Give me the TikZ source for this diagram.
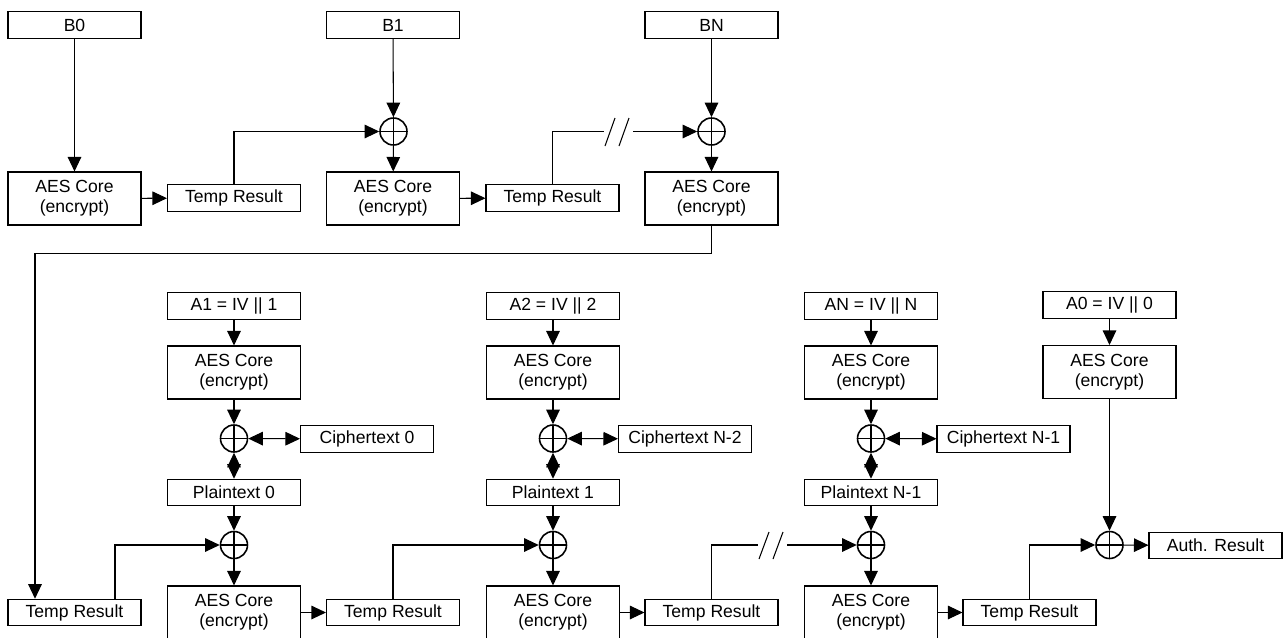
\documentclass[tikz,border=0pt]{standalone}
\usepackage{fontspec}
\setmainfont{Liberation Sans}
\usepackage{tikz}
\usetikzlibrary{arrows.meta}
\tikzset{
  blk/.style          = {rectangle, draw, line width=0.6pt, minimum width=26.6mm,
                         minimum height=5.3mm, inner sep=0pt,
                         font=\fontsize{10}{11.5}\selectfont},
  core/.style         = {blk, minimum height=10.6mm, align=center},
  xor/.style          = {circle, draw, line width=0.9pt, minimum size=5.4mm, inner sep=0pt,
                         path picture={\draw[line width=0.6pt]
                           (path picture bounding box.north) -- (path picture bounding box.south)
                           (path picture bounding box.west) -- (path picture bounding box.east);}},
  flow/.style         = {-{Triangle[length=2.9mm, width=2.7mm]}, line width=0.6pt},
  both/.style         = {{Triangle[length=2.9mm, width=2.7mm]}-{Triangle[length=2.9mm, width=2.7mm]},
                         line width=0.6pt},
  wire/.style         = {line width=0.6pt},
}

\begin{document}
\begin{tikzpicture}[x=0.2mm, y=-0.2mm]
  \useasboundingbox (0,0) rectangle (1283,637);

  % CBC-MAC over the B blocks
  \node[blk] (blk0) at (74.5,25) {B0};
  \node[blk] (blk1) at (393,25) {B1};
  \node[blk] (blkN) at (711.5,25) {BN};
  \node[xor] (xor1) at (393.5,131.5) {};
  \node[xor] (xorN) at (711.5,131.5) {};
  \node[core] (enc0) at (74.5,198.5) {AES Core\\(encrypt)};
  \node[core] (enc1) at (393,198.5) {AES Core\\(encrypt)};
  \node[core] (encN) at (711.5,198.5) {AES Core\\(encrypt)};
  \node[blk] (tmp0) at (234,198) {Temp Result};
  \node[blk] (tmp1) at (552.5,198) {Temp Result};
  \coordinate (cut1a) at (604,131.5);
  \coordinate (cut1b) at (633,131.5);

  \draw[flow] (blk0) -- (enc0);
  \draw[flow] (enc0) -- (tmp0);
  \draw[flow] (tmp0.north) |- (xor1.west);
  \draw[flow] (blk1) -- (xor1);
  \draw[flow] (xor1) -- (enc1);
  \draw[flow] (enc1) -- (tmp1);
  \draw[wire] (tmp1.north) |- (cut1a);
  \draw[wire] (605,146) -- (615,118) (619,146) -- (629,118);
  \draw[flow] (cut1b) -- (xorN);
  \draw[flow] (blkN) -- (xorN);
  \draw[flow] (xorN) -- (encN);

  % counter blocks
  \node[blk] (ctr1) at (234,306) {A1 = IV || 1};
  \node[blk] (ctr2) at (553,306) {A2 = IV || 2};
  \node[blk] (ctrN) at (871,306) {AN = IV || N};
  \node[blk] (ctr0) at (1109.5,305) {A0 = IV || 0};
  \node[core] (cenc1) at (234,372.5) {AES Core\\(encrypt)};
  \node[core] (cenc2) at (553,372.5) {AES Core\\(encrypt)};
  \node[core] (cencN) at (871,372.5) {AES Core\\(encrypt)};
  \node[core] (cenc0) at (1109.5,372) {AES Core\\(encrypt)};
  \node[xor] (kxor1) at (234,438.5) {};
  \node[xor] (kxor2) at (553,438.5) {};
  \node[xor] (kxorN) at (871,438.5) {};
  \node[blk] (ct0) at (367,439) {Ciphertext 0};
  \node[blk] (ctN2) at (685,439) {Ciphertext N-2};
  \node[blk] (ctN1) at (1003.5,439) {Ciphertext N-1};
  \node[blk] (pt0) at (234,492.5) {Plaintext 0};
  \node[blk] (pt1) at (553,492.5) {Plaintext 1};
  \node[blk] (ptN1) at (871,492.5) {Plaintext N-1};

  % MAC over the plaintext
  \node[xor] (mxor1) at (234,545) {};
  \node[xor] (mxor2) at (553,545) {};
  \node[xor] (mxorN) at (871,545) {};
  \node[xor] (mxorA) at (1109.5,545) {};
  \node[core] (menc1) at (234,612.5) {AES Core\\(encrypt)};
  \node[core] (menc2) at (553,612.5) {AES Core\\(encrypt)};
  \node[core] (mencN) at (871,612.5) {AES Core\\(encrypt)};
  \node[blk] (mtmp0) at (74.5,612.5) {Temp Result};
  \node[blk] (mtmp1) at (393,612.5) {Temp Result};
  \node[blk] (mtmp2) at (711.5,612.5) {Temp Result};
  \node[blk] (mtmp3) at (1029.5,612.5) {Temp Result};
  \node[blk] (auth) at (1215.5,545.5) {Auth. Result};
  \coordinate (cut2a) at (758,545);
  \coordinate (cut2b) at (787,545);

  \draw[flow] (encN.south) -- ++(0,27.5) -| ([xshift=-39.5*0.2mm]mtmp0.north);
  \draw[flow] ([xshift=40.5*0.2mm]mtmp0.north) |- (mxor1.west);

  \draw[flow] (ctr1) -- (cenc1);
  \draw[flow] (cenc1) -- (kxor1);
  \draw[both] (kxor1) -- (ct0);
  \draw[both] (kxor1) -- (pt0);
  \draw[flow] (pt0) -- (mxor1);
  \draw[flow] (mxor1) -- (menc1);
  \draw[flow] (menc1.east |- mtmp1) -- (mtmp1);
  \draw[flow] (mtmp1.north) |- (mxor2.west);

  \draw[flow] (ctr2) -- (cenc2);
  \draw[flow] (cenc2) -- (kxor2);
  \draw[both] (kxor2) -- (ctN2);
  \draw[both] (kxor2) -- (pt1);
  \draw[flow] (pt1) -- (mxor2);
  \draw[flow] (mxor2) -- (menc2);
  \draw[flow] (menc2.east |- mtmp2) -- (mtmp2);
  \draw[wire] (mtmp2.north) |- (cut2a);
  \draw[wire] (759,559) -- (769,532) (773,559) -- (783,532);
  \draw[flow] (cut2b) -- (mxorN);

  \draw[flow] (ctrN) -- (cencN);
  \draw[flow] (cencN) -- (kxorN);
  \draw[both] (kxorN) -- (ctN1);
  \draw[both] (kxorN) -- (ptN1);
  \draw[flow] (ptN1) -- (mxorN);
  \draw[flow] (mxorN) -- (mencN);
  \draw[flow] (mencN.east |- mtmp3) -- (mtmp3);

  \draw[flow] (ctr0) -- (cenc0);
  \draw[flow] (cenc0) -- (mxorA);
  \draw[flow] (mtmp3.north) |- (mxorA.west);
  \draw[flow] (mxorA) -- (auth);
\end{tikzpicture}
\end{document}
